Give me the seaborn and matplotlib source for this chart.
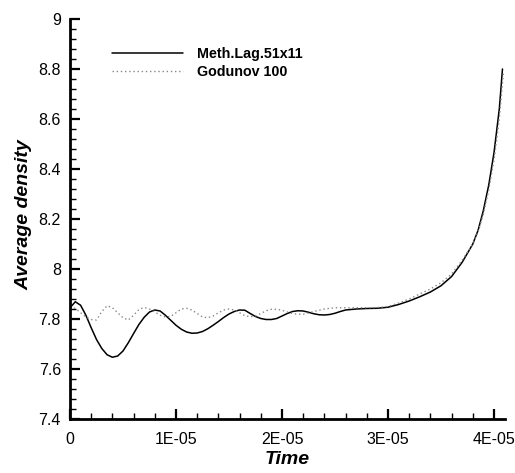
import numpy as np
import pandas as pd
import matplotlib
matplotlib.use("Agg")
import matplotlib.pyplot as plt
import matplotlib.ticker as mticker
import seaborn as sns

# ---- data (time in units of 1E-05) ----
lag_t = [0.00, 0.05, 0.10, 0.15, 0.20, 0.25, 0.30, 0.35, 0.40, 0.45, 0.50, 0.55, 0.60, 0.65,
         0.70, 0.75, 0.80, 0.85, 0.90, 0.95, 1.00, 1.05, 1.10, 1.15, 1.20, 1.25, 1.30, 1.35,
         1.40, 1.45, 1.50, 1.55, 1.60, 1.65, 1.70, 1.75, 1.80, 1.85, 1.90, 1.95, 2.00, 2.05,
         2.10, 2.15, 2.20, 2.25, 2.30, 2.35, 2.40, 2.45, 2.50, 2.55, 2.60, 2.70, 2.80, 2.90,
         3.00, 3.10, 3.20, 3.30, 3.40, 3.50, 3.60, 3.70, 3.80, 3.85, 3.90, 3.95, 4.00, 4.05, 4.08]
lag_rho = [7.845, 7.869, 7.855, 7.815, 7.765, 7.718, 7.682, 7.657, 7.647, 7.652, 7.672, 7.705,
           7.742, 7.778, 7.807, 7.828, 7.836, 7.832, 7.815, 7.795, 7.775, 7.759, 7.748, 7.743,
           7.744, 7.750, 7.761, 7.775, 7.790, 7.806, 7.820, 7.830, 7.836, 7.835, 7.822, 7.810,
           7.802, 7.798, 7.798, 7.802, 7.812, 7.822, 7.830, 7.833, 7.832, 7.827, 7.821, 7.817,
           7.816, 7.818, 7.823, 7.830, 7.836, 7.840, 7.842, 7.843, 7.847, 7.858, 7.872, 7.889,
           7.908, 7.933, 7.970, 8.027, 8.100, 8.155, 8.235, 8.335, 8.465, 8.640, 8.800]

god_t = [0.00, 0.05, 0.10, 0.15, 0.20, 0.25, 0.30, 0.35, 0.40, 0.45, 0.50, 0.55, 0.60, 0.65,
         0.70, 0.75, 0.80, 0.85, 0.90, 0.95, 1.00, 1.05, 1.10, 1.15, 1.20, 1.25, 1.30, 1.35,
         1.40, 1.45, 1.50, 1.55, 1.60, 1.65, 1.70, 1.75, 1.80, 1.85, 1.90, 1.95, 2.00, 2.05,
         2.10, 2.15, 2.20, 2.25, 2.30, 2.40, 2.50, 2.60, 2.70, 2.80, 2.90, 3.00, 3.10, 3.20,
         3.30, 3.40, 3.50, 3.60, 3.70, 3.80, 3.85, 3.90, 3.95, 4.00, 4.05, 4.09]
god_rho = [7.850, 7.842, 7.825, 7.808, 7.798, 7.796, 7.830, 7.853, 7.845, 7.825, 7.805, 7.796,
           7.815, 7.838, 7.846, 7.840, 7.828, 7.815, 7.808, 7.810, 7.825, 7.840, 7.843, 7.836,
           7.822, 7.808, 7.805, 7.812, 7.825, 7.836, 7.840, 7.836, 7.825, 7.813, 7.809, 7.812,
           7.822, 7.833, 7.839, 7.839, 7.835, 7.828, 7.822, 7.819, 7.819, 7.824, 7.830, 7.840,
           7.845, 7.845, 7.845, 7.845, 7.846, 7.850, 7.864, 7.880, 7.900, 7.920, 7.945, 7.980,
           8.035, 8.100, 8.150, 8.220, 8.315, 8.435, 8.600, 8.790]

series_names = ["Meth.Lag.51x11", "Godunov 100"]
x_ticks = [0, 1e-5, 2e-5, 3e-5, 4e-5]
x_tick_labels = ["0", "1E-05", "2E-05", "3E-05", "4E-05"]
y_ticks = [7.4, 7.6, 7.8, 8.0, 8.2, 8.4, 8.6, 8.8, 9.0]
y_tick_labels = ["7.4", "7.6", "7.8", "8", "8.2", "8.4", "8.6", "8.8", "9"]

df = pd.concat([
    pd.DataFrame({"t": np.array(lag_t) * 1e-5, "rho": lag_rho, "s": series_names[0]}),
    pd.DataFrame({"t": np.array(god_t) * 1e-5, "rho": god_rho, "s": series_names[1]}),
])

sns.set_theme(style="white")
plt.rcParams["font.family"] = ["Liberation Sans", "DejaVu Sans"]
plt.rcParams["text.color"] = "black"
plt.rcParams["axes.labelcolor"] = "black"

fig = plt.figure(figsize=(5.15, 4.73), dpi=100)
ax = fig.add_axes([70 / 515, 1 - 419 / 473, (504.6 - 70) / 515, (419 - 19) / 473])

sns.lineplot(data=df[df.s == series_names[0]], x="t", y="rho", ax=ax,
             color="black", lw=1.1, label=series_names[0], sort=False)
sns.lineplot(data=df[df.s == series_names[1]], x="t", y="rho", ax=ax,
             color="#888888", lw=1.0, linestyle=(0, (1, 2)), label=series_names[1], sort=False)

ax.set_xlim(0, 4.1e-5)
ax.set_ylim(7.4, 9.0)
ax.set_xticks(x_ticks)
ax.set_xticklabels(x_tick_labels)
ax.set_yticks(y_ticks)
ax.set_yticklabels(y_tick_labels)
ax.xaxis.set_minor_locator(mticker.MultipleLocator(2e-6))
ax.yaxis.set_minor_locator(mticker.MultipleLocator(0.04))

for side in ["top", "right"]:
    ax.spines[side].set_visible(False)
for side in ["left", "bottom"]:
    ax.spines[side].set_visible(True)
    ax.spines[side].set_color("black")
    ax.spines[side].set_linewidth(2.0)

ax.tick_params(which="major", direction="in", length=7, width=1.6, colors="black",
               labelcolor="black", labelsize=11.5, left=True, bottom=True)
ax.tick_params(which="minor", direction="in", length=4, width=1.0, colors="black",
               left=True, bottom=True)
ax.tick_params(axis="x", which="major", pad=9.5)
ax.tick_params(axis="y", which="major", pad=6.5)

ax.set_xlabel("Time", fontsize=14, fontweight="bold", style="italic", color="black")
ax.set_ylabel("Average density", fontsize=14, fontweight="bold", style="italic", color="black")
ax.xaxis.set_label_coords((287 - 70) / 434.6, -(451 - 419) / 400)
ax.yaxis.set_label_coords(-(70 - 32) / 434.6, (419 - 215) / 400)

leg = ax.legend(loc="upper left", bbox_to_anchor=(0.066, 0.9625), frameon=False,
                prop={"weight": "bold", "size": 10.3}, handlelength=5.0,
                handletextpad=1.0, labelspacing=0.3)
ax.grid(False)

fig.savefig("out.png", dpi=100)
